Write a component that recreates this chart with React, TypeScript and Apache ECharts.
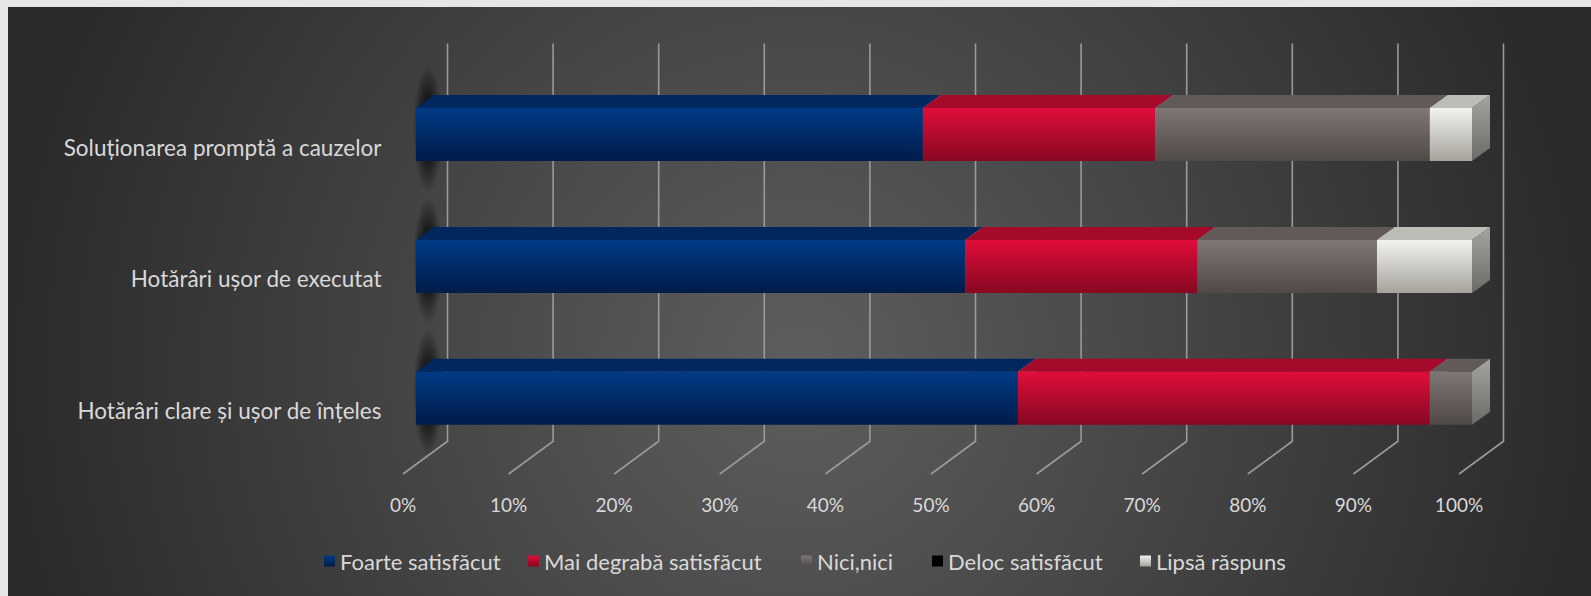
import React, { useEffect, useRef } from "react";
import * as echarts from "echarts";

const categories = [
  "Soluționarea promptă a cauzelor",
  "Hotărâri ușor de executat",
  "Hotărâri clare și ușor de înțeles",
];
const seriesNames = [
  "Foarte satisfăcut",
  "Mai degrabă satisfăcut",
  "Nici,nici",
  "Deloc satisfăcut",
  "Lipsă răspuns",
];
const foarte = [48, 52, 57];
const maiDegraba = [22, 22, 39];
const nici = [26, 17, 4];
const deloc = [0, 0, 0];
const lipsa = [4, 9, 0];
const tickValues = [0, 10, 20, 30, 40, 50, 60, 70, 80, 90, 100];

const FONT = "Lato";
const TEXT = "#d9d9d9";
const DX = 18;
const DY = 13;
const BAR_H = 53;

const palettes = [
  { front: ["#003a85", "#001c4a"], top: "#00285f", legend: ["#003a85", "#001c4a"] },
  { front: ["#e00d3b", "#870821"], top: "#a50a2a", legend: ["#e00d3b", "#870821"] },
  { front: ["#7f7775", "#4f4947"], top: "#625a59", legend: ["#7f7775", "#4f4947"] },
  { front: ["#111111", "#000000"], top: "#222222", legend: ["#000000", "#000000"] },
  { front: ["#f2f2f0", "#a6a39c"], top: "#bdbdb8", legend: ["#f2f2f0", "#a6a39c"] },
];

const vgrad = (a: string, b: string) => ({
  type: "linear",
  x: 0,
  y: 0,
  x2: 0,
  y2: 1,
  colorStops: [
    { offset: 0, color: a },
    { offset: 1, color: b },
  ],
});

const legendLeft = [316, 520, 793, 924, 1132];

export default function App() {
  const ref = useRef<HTMLDivElement>(null);
  useEffect(() => {
    if (!ref.current) return;
    const chart = echarts.init(ref.current, undefined, { renderer: "svg" });
    const all = [foarte, maiDegraba, nici, deloc, lipsa];
    const starts: number[][] = [];
    const acc = [0, 0, 0];
    all.forEach((arr) => {
      starts.push(acc.slice());
      arr.forEach((v, i) => (acc[i] += v));
    });

    const barSeries = all.map((arr, si) => ({
      type: "custom",
      name: seriesNames[si],
      z: 3,
      itemStyle: { color: vgrad(palettes[si].legend[0], palettes[si].legend[1]) },
      encode: { x: [1, 2], y: 0 },
      data: arr.map((v, ci) => [ci, starts[si][ci], starts[si][ci] + v]),
      renderItem: (params: any, api: any) => {
        const c = api.value(0);
        const s = api.value(1);
        const e = api.value(2);
        if (e - s <= 0) return null;
        const p0 = api.coord([s, c]);
        const p1 = api.coord([e, c]);
        const x0 = p0[0];
        const x1 = p1[0];
        const top = p0[1] - BAR_H / 2;
        const pal = palettes[si];
        return {
          type: "group",
          children: [
            {
              type: "polygon",
              shape: {
                points: [
                  [x0, top],
                  [x0 + DX, top - DY],
                  [x1 + DX, top - DY],
                  [x1, top],
                ],
              },
              style: { fill: pal.top },
            },
            {
              type: "polygon",
              shape: {
                points: [
                  [x1, top],
                  [x1 + DX, top - DY],
                  [x1 + DX, top + BAR_H - DY],
                  [x1, top + BAR_H],
                ],
              },
              style: { fill: vgrad("#a5a5a0", "#6b6a66") },
            },
            {
              type: "rect",
              shape: { x: x0, y: top, width: x1 - x0, height: BAR_H },
              style: { fill: vgrad(pal.front[0], pal.front[1]) },
            },
          ],
        };
      },
    }));

    const gridSeries = {
      type: "custom",
      name: "grid",
      z: 2,
      silent: true,
      encode: { x: 0, y: 1 },
      data: tickValues.map((v) => [v, 0]),
      renderItem: (params: any, api: any) => {
        const p = api.coord([api.value(0), 0]);
        const cs = params.coordSys;
        const bx = p[0] + 31.5;
        return {
          type: "polyline",
          shape: {
            points: [
              [bx, cs.y - 25],
              [bx, cs.y + cs.height - 23],
              [p[0] - 13, cs.y + cs.height + 9.75],
            ],
          },
          style: { stroke: "#9a9a9a", lineWidth: 1.6, fill: null },
        };
      },
    };

    const shadowSeries = {
      type: "custom",
      name: "shadow",
      z: 1,
      silent: true,
      encode: { x: 0, y: 1 },
      data: categories.map((_, i) => [0, i]),
      renderItem: (params: any, api: any) => {
        const p = api.coord([0, api.value(1)]);
        return {
          type: "rect",
          shape: { x: p[0] - 3, y: p[1] - 70, width: 30, height: 128 },
          style: {
            fill: {
              type: "radial",
              x: 0.5,
              y: 0.5,
              r: 0.5,
              colorStops: [
                { offset: 0, color: "rgba(0,0,0,0.9)" },
                { offset: 0.5, color: "rgba(0,0,0,0.6)" },
                { offset: 1, color: "rgba(0,0,0,0)" },
              ],
            },
          },
        };
      },
    };

    chart.setOption({
      animation: false,
      backgroundColor: {
        type: "radial",
        x: 790,
        y: 360,
        r: 800,
        global: true,
        colorStops: [
          { offset: 0, color: "#5e5e5e" },
          { offset: 1, color: "#2a2a2a" },
        ],
      },
      grid: { left: 408, right: 119, top: 61.55, bottom: 131.75, containLabel: false },
      xAxis: {
        type: "value",
        min: 0,
        max: 100,
        interval: 10,
        axisLine: { show: false },
        axisTick: { show: false },
        splitLine: { show: false },
        axisLabel: {
          formatter: "{value}%",
          color: TEXT,
          fontFamily: FONT,
          fontSize: 19,
          lineHeight: 20,
          margin: 30,
          padding: [0, 26, 0, 0],
        },
      },
      yAxis: {
        type: "category",
        data: categories,
        inverse: true,
        axisLine: { show: false },
        axisTick: { show: false },
        splitLine: { show: false },
        axisLabel: {
          color: TEXT,
          fontFamily: FONT,
          fontSize: 22.5,
          lineHeight: 25,
          verticalAlign: "top",
          margin: 34.5,
        },
      },
      legend: seriesNames.map((n, i) => ({
        data: [n],
        left: legendLeft[i],
        top: 542,
        padding: 0,
        itemWidth: 11,
        itemHeight: 11,
        icon: "rect",
        selectedMode: false,
        textStyle: { color: TEXT, fontFamily: FONT, fontSize: 22, lineHeight: 24 },
      })),
      series: [shadowSeries, gridSeries, ...barSeries],
    });
    return () => chart.dispose();
  }, []);

  return (
    <div style={{ position: "fixed", inset: 0, background: "#e6e6e6" }}>
      <div
        ref={ref}
        style={{ position: "absolute", left: 8, top: 7, width: 1583, height: 589 }}
      />
    </div>
  );
}
